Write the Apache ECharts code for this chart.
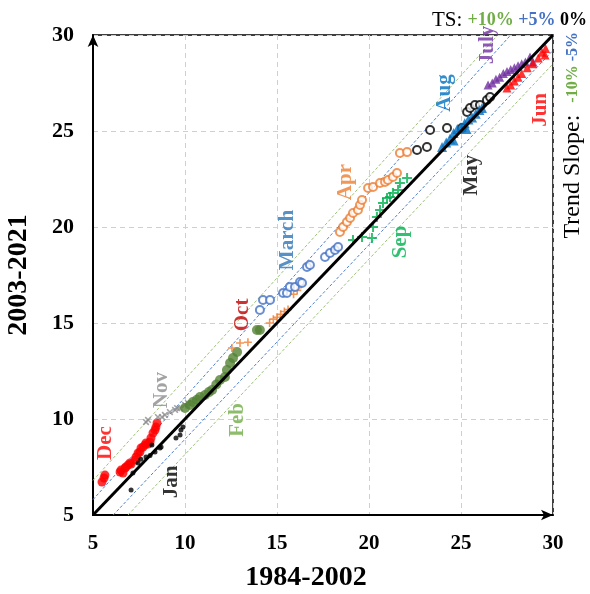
<!DOCTYPE html>
<html lang="en">
<head>
    <meta charset="UTF-8">
    <title>Monthly temperature 1984-2002 vs 2003-2021</title>
    <script src="https://cdn.jsdelivr.net/npm/echarts@6/dist/echarts.min.js"></script>
    <style>
        html, body { margin: 0; padding: 0; background: #fff; }
        #chart1 { width: 590px; height: 594px; }
    </style>
</head>
<body>
<div id="chart1"></div>
<script>
    // ---- data (x = 1984-2002, y = 2003-2021) ----
    var ticks = [5, 10, 15, 20, 25, 30];

    var dec = [[5.49,6.72],[5.6,6.93],[5.65,7.08],[6.47,7.24],[6.52,7.34],[6.63,7.19],[6.74,7.45],[6.79,7.5],[6.9,7.6],[7.01,7.71],[7.07,7.65],[7.28,7.86],[7.34,8.02],[7.45,8.23],[7.55,8.28],[7.61,8.49],[7.72,8.54],[7.83,8.65],[7.88,8.75],[7.99,8.7],[8.1,8.8],[8.15,9.01],[8.26,9.27],[8.37,9.43],[8.42,9.58],[8.48,9.79]];
    var jan = [[7.07,6.3],[7.17,7.19],[7.45,7.71],[7.6,7.9],[7.88,8.02],[8.1,8.1],[8.2,8.65],[8.37,8.28],[8.64,8.49],[8.7,8.54],[9.51,9.01],[9.73,9.17],[9.78,9.43],[9.89,9.58]];
    var nov = [[7.88,9.84],[7.99,9.95],[8.53,10.1],[8.75,10.1],[8.91,10.21],[9.18,10.36],[9.46,10.47],[9.57,10.57],[9.73,10.57],[10.0,10.73],[10.16,10.83]];
    var feb = [[10.0,10.57],[10.27,10.73],[10.43,10.89],[10.65,11.0],[10.82,11.15],[11.09,11.25],[11.3,11.4],[11.47,11.51],[11.7,11.8],[11.9,12.03],[12.17,12.19],[12.28,12.55],[12.45,12.92],[12.61,13.18],[12.83,13.49],[13.91,14.64],[14.07,14.64]];
    var oct = [[12.55,13.7],[12.99,13.96],[13.42,14.0],[14.6,15.0],[14.8,15.2],[15.0,15.3],[15.2,15.45],[15.4,15.6],[15.6,15.7],[15.9,16.5],[16.1,16.7],[16.3,17.0]];
    var mar = [[14.07,15.68],[14.24,16.2],[14.62,16.2],[15.33,16.56],[15.54,16.56],[15.7,16.88],[15.98,16.88],[16.25,17.14],[16.36,17.08],[16.63,17.92],[16.79,18.02],[17.61,18.44],[17.88,18.65],[18.15,18.8],[18.32,18.96]];
    var apr = [[18.42,19.74],[18.59,20.0],[18.8,20.26],[18.97,20.47],[19.13,20.73],[19.4,20.89],[19.51,21.15],[19.62,21.41],[19.95,22.03],[20.22,22.08],[20.6,22.29],[20.87,22.34],[21.03,22.45],[21.3,22.6],[21.52,22.81],[21.68,23.85],[22.07,23.9]];
    var sep = [[19.13,19.32],[19.62,19.48],[20.16,19.43],[20.22,20.0],[20.43,20.52],[20.6,20.89],[20.76,21.25],[20.98,21.51],[21.14,21.56],[21.3,21.77],[21.58,21.93],[21.68,22.29],[22.07,22.55]];
    var may = [[22.61,24.01],[23.15,24.17],[23.32,25.05],[24.24,25.16],[25.05,25.16],[25.33,25.99],[25.49,26.2],[25.76,26.35],[26.03,26.35],[26.41,26.61],[26.58,26.77]];
    var aug = [[23.97,24.17],[24.2,24.4],[24.4,24.6],[24.6,24.5],[24.6,24.9],[24.8,25.1],[25.0,25.2],[25.3,25.1],[25.2,25.4],[25.4,25.6],[25.6,25.7],[25.8,25.9],[26.0,26.1],[26.14,26.2]];
    var jul = [[26.47,27.4],[26.7,27.5],[26.9,27.7],[27.1,27.8],[27.3,28.0],[27.5,28.1],[27.7,28.2],[27.9,28.3],[28.1,28.4],[28.3,28.5],[28.5,28.6],[28.75,28.85],[28.91,28.6]];
    var jun = [[27.5,27.24],[27.7,27.4],[27.9,27.6],[28.1,27.8],[28.3,28.0],[28.6,28.3],[28.9,28.5],[29.2,28.8],[29.4,29.1],[29.57,28.96],[29.6,29.3]];

    // reference lines (trend slope)
    var line0 = [[5, 5], [30, 30]];
    var linePlus10 = [[5, 6.8], [27.0, 30]];
    var linePlus5 = [[5, 5.8], [27.7, 30]];
    var lineMinus5 = [[6.1, 5], [30, 29.2]];
    var lineMinus10 = [[6.9, 5], [30, 28.5]];

    // month labels
    var monthNames = ['Dec', 'Nov', 'Jan', 'Feb', 'Oct', 'March', 'Apr', 'Sep', 'May', 'Aug', 'July', 'Jun'];
    var monthPos = [[5.71,8.75],[8.7,11.5],[9.29,6.72],[12.88,9.95],[13.15,15.42],[15.6,19.32],[18.7,22.34],[21.74,19.22],[25.6,22.7],[24.13,26.98],[26.47,29.48],[29.35,26.1]];
    var monthColors = ['#FF0000', '#8C8C8C', '#000000', '#70AD47', '#C00000', '#2E75B6', '#ED7D31', '#00B050', '#000000', '#0070C0', '#7030A0', '#FF0000'];

    var PLUS = 'path://M4,0H6V4H10V6H6V10H4V6H0V4H4Z';
    var serif = '"Liberation Serif", "DejaVu Serif", serif';

    function refLine(d, color, width, type, z) {
        return {
            type: 'line', data: d, symbol: 'none', silent: true, z: z || 1,
            lineStyle: { color: color, width: width, type: type }
        };
    }

    function pts(d, symbol, size, color, filled, extra) {
        var s = {
            type: 'scatter', data: d, symbol: symbol, symbolSize: size, z: 3,
            itemStyle: filled ? { color: color } : { color: color, borderColor: color, borderWidth: 1.6 }
        };
        if (extra) for (var k in extra) s[k] = extra[k];
        return s;
    }

    var labelData = monthNames.map(function (n, i) {
        return { name: n, value: monthPos[i], label: { color: monthColors[i] } };
    });

    var myChart1 = echarts.init(document.getElementById('chart1'));
    myChart1.setOption({
        animation: false,
        grid: { left: 93, right: 37, top: 35, bottom: 79, outerBoundsMode: 'none',
            show: true, borderColor: '#000', borderWidth: 1.5 },
        xAxis: {
            type: 'value', min: 5, max: 30, interval: 5,
            name: '1984-2002', nameLocation: 'middle', nameGap: 49,
            nameTextStyle: { fontFamily: serif, fontWeight: 'bold', fontSize: 28, color: '#000', padding: [0, 34, 0, 0] },
            axisLine: { lineStyle: { color: '#000', width: 2 }, symbol: ['none', 'arrow'], symbolSize: [8, 12] },
            axisTick: { show: false },
            axisLabel: { fontFamily: serif, fontWeight: 'bold', fontSize: 21, color: '#000', margin: 18,
                formatter: function (v) { return ticks.indexOf(v) >= 0 ? String(v) : ''; } },
            splitLine: { lineStyle: { color: '#CFCFCF', type: [5, 4] } }
        },
        yAxis: {
            type: 'value', min: 5, max: 30, interval: 5,
            name: '2003-2021', nameLocation: 'middle', nameGap: 60,
            nameTextStyle: { fontFamily: serif, fontWeight: 'bold', fontSize: 28, color: '#000' },
            axisLine: { lineStyle: { color: '#000', width: 2 }, symbol: ['none', 'arrow'], symbolSize: [8, 12] },
            axisTick: { show: false },
            axisLabel: { fontFamily: serif, fontWeight: 'bold', fontSize: 22, color: '#000', margin: 19 },
            splitLine: { lineStyle: { color: '#CFCFCF', type: [5, 4] } }
        },
        series: [
            refLine(linePlus10, '#9CC27A', 1, [3, 2]),
            refLine(linePlus5, '#4F7FD0', 1, [3, 2]),
            refLine(lineMinus5, '#4F7FD0', 1, [3, 2]),
            refLine(lineMinus10, '#9CC27A', 1, [3, 2]),
            pts(dec, 'circle', 9, '#FF0000', true),
            pts(jan, 'circle', 5, '#000000', true),
            pts(nov, PLUS, 8, '#8C8C8C', true, { symbolRotate: 45 }),
            pts(feb, 'circle', 10, '#548235', true),
            pts(oct, PLUS, 8, '#ED7D31', true),
            pts(mar, 'emptyCircle', 8, '#4472C4', false),
            pts(apr, 'emptyCircle', 8, '#ED7D31', false),
            pts(sep, PLUS, 10, '#00B050', true),
            pts(may, 'emptyCircle', 8, '#000000', false),
            pts(aug, 'triangle', 10, '#0070C0', true),
            pts(jul, 'triangle', 9, '#7030A0', true),
            pts(jun, 'triangle', 9, '#FF0000', true),
            refLine(line0, '#000000', 3, 'solid', 4),
            {
                type: 'scatter', data: labelData, symbolSize: 0, silent: true, z: 5,
                label: {
                    show: true, position: 'inside', rotate: 90, formatter: '{b}',
                    fontFamily: serif, fontWeight: 'bold', fontSize: 21
                }
            }
        ],
        graphic: [
            {
                type: 'text', right: 3, top: 10,
                style: {
                    text: '{a|TS: }{g|+10%}{b| +5%}{k| 0%}',
                    rich: {
                        a: { fontFamily: serif, fontSize: 21, fill: '#000' },
                        g: { fontFamily: serif, fontSize: 18, fontWeight: 'bold', fill: '#70AD47' },
                        b: { fontFamily: serif, fontSize: 18, fontWeight: 'bold', fill: '#4472C4' },
                        k: { fontFamily: serif, fontSize: 18, fontWeight: 'bold', fill: '#000' }
                    }
                }
            },
            {
                type: 'text', x: 573, y: 32, rotation: Math.PI / 2,
                style: {
                    text: '{a|Trend Slope:  }{g|-10%}{b| -5%}',
                    align: 'right', verticalAlign: 'middle',
                    rich: {
                        a: { fontFamily: serif, fontSize: 24, fill: '#000' },
                        g: { fontFamily: serif, fontSize: 16, fontWeight: 'bold', fill: '#70AD47' },
                        b: { fontFamily: serif, fontSize: 16, fontWeight: 'bold', fill: '#4472C4' }
                    }
                }
            }
        ]
    });
</script>
</body>
</html>
